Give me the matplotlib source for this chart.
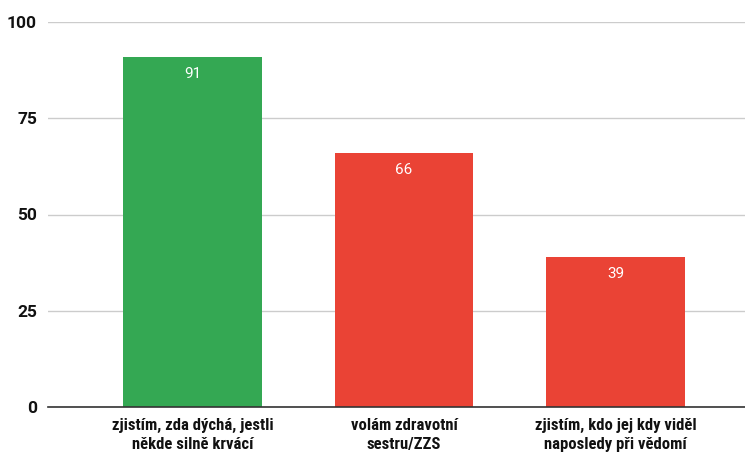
import matplotlib.pyplot as plt
import matplotlib.font_manager as fm

categories = ["zjistím, zda dýchá, jestli\nněkde silně krvácí",
              "volám zdravotní\nsestru/ZZS",
              "zjistím, kdo jej kdy viděl\nnaposledy při vědomí"]
values = [91, 66, 39]
colors = ["#34A853", "#EA4335", "#EA4335"]
yticks = [0, 25, 50, 75, 100]

names = {f.name for f in fm.fontManager.ttflist}
label_font = "Roboto Condensed" if "Roboto Condensed" in names else "DejaVu Sans"
base_font = "Roboto" if "Roboto" in names else "DejaVu Sans"

fig = plt.figure(figsize=(7.45, 4.53), dpi=100)
ax = fig.add_axes([48 / 745, 46 / 453, 697 / 745, 385 / 453])

x = range(len(values))
bars = ax.bar(x, values, width=0.657, color=colors, zorder=3)

for b, v in zip(bars, values):
    ax.text(b.get_x() + b.get_width() / 2, v - 4.5, str(v), ha="center", va="center",
            color="white", fontsize=11, family=base_font, zorder=4)

ax.set_xlim(-0.683, 2.612)
ax.set_ylim(0, 100)
ax.set_yticks(yticks)
ax.set_yticklabels([str(t) for t in yticks], fontsize=12.5, fontweight="bold",
                   family=base_font, color="#111111")
ax.set_xticks(list(x))
ax.set_xticklabels(categories, fontsize=12, fontweight="bold", family=label_font,
                   color="#111111", linespacing=1.3)
ax.tick_params(axis="both", length=0)
ax.tick_params(axis="y", pad=8)
ax.tick_params(axis="x", pad=8)

ax.grid(axis="y", color="#cccccc", linewidth=1, zorder=0)
for s in ["top", "right", "left"]:
    ax.spines[s].set_visible(False)
ax.spines["bottom"].set_color("#333333")
ax.spines["bottom"].set_linewidth(1.2)
ax.spines["bottom"].set_zorder(5)

fig.savefig("out.png", dpi=100)
